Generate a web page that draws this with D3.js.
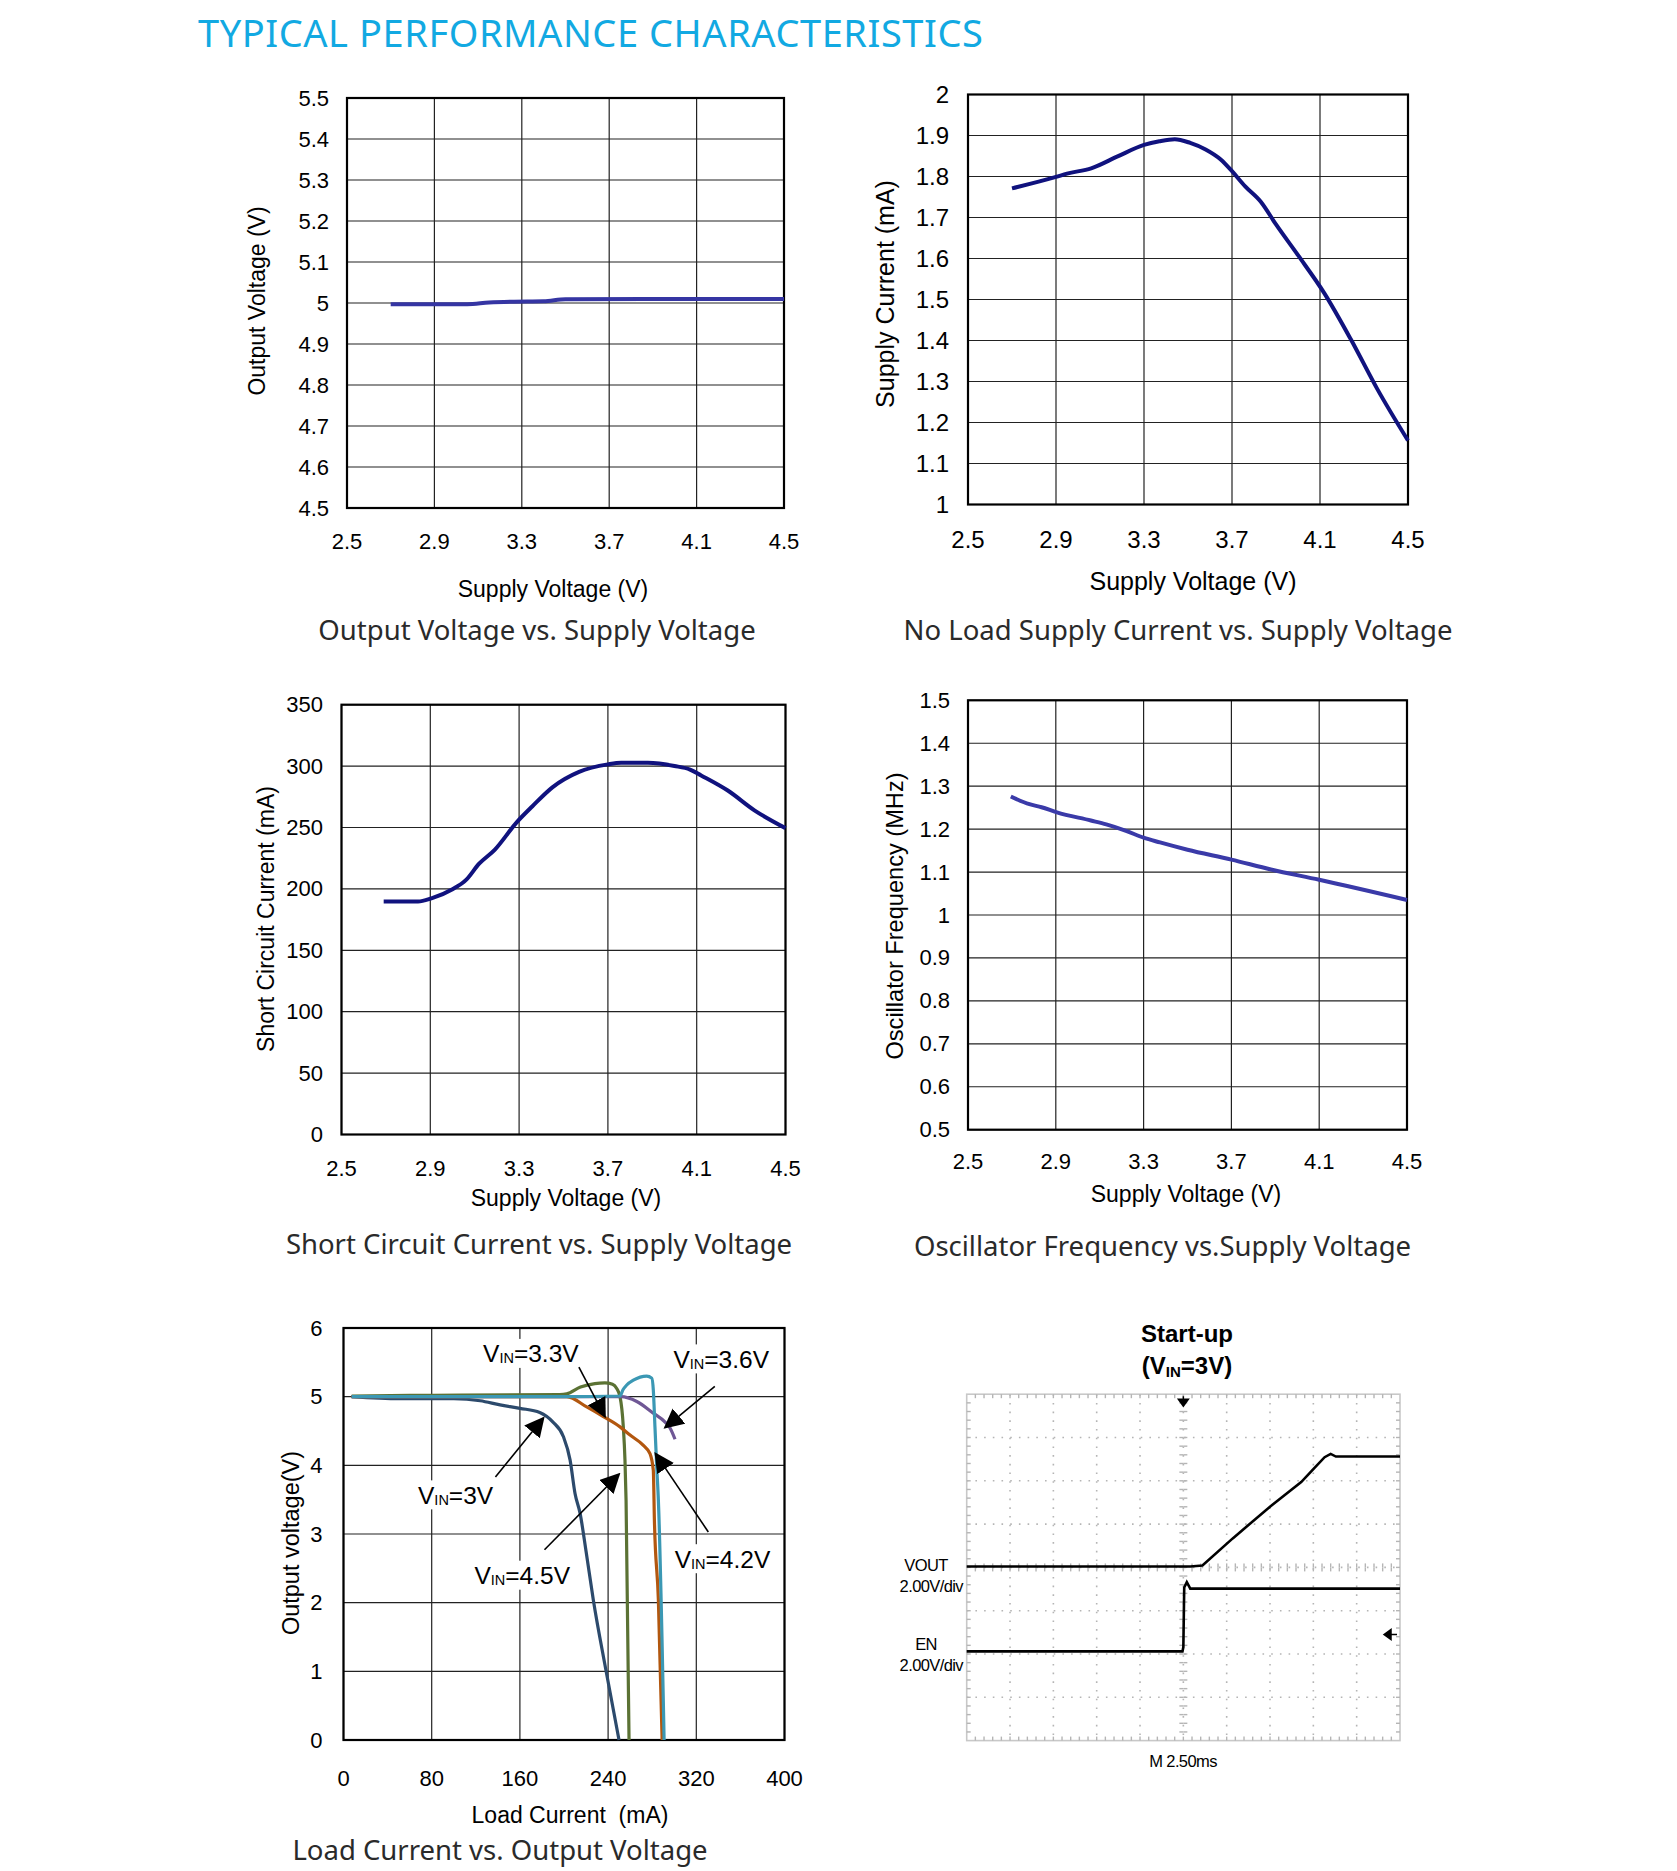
<!DOCTYPE html>
<html>
<head>
<meta charset="utf-8">
<script src="https://cdn.jsdelivr.net/npm/d3@7"></script>
<style>
  body { margin: 0; background: #fff; }
  svg { display: block; }
</style>
</head>
<body>
<div id="chart"></div>
<script>
// ---- data ----
const supplyTicks = [2.5, 2.9, 3.3, 3.7, 4.1, 4.5];

// Output Voltage vs Supply Voltage  [Vin, Vout]
const outVoltage = [[2.7, 4.997], [3.05, 4.997], [3.15, 5.001], [3.25, 5.003], [3.4, 5.004], [3.5, 5.009], [4.5, 5.01]];
const outVoltageTicks = [4.5, 4.6, 4.7, 4.8, 4.9, 5, 5.1, 5.2, 5.3, 5.4, 5.5];

// No load supply current  [Vin, mA]
const noLoadCurrent = [[2.7, 1.771], [2.9, 1.799], [2.95, 1.807], [3.06, 1.82], [3.18, 1.849], [3.3, 1.877], [3.37, 1.886],
  [3.44, 1.891], [3.51, 1.882], [3.58, 1.866], [3.65, 1.841], [3.7, 1.813], [3.76, 1.776], [3.83, 1.739], [3.9, 1.683],
  [4.0, 1.608], [4.12, 1.515], [4.24, 1.403], [4.36, 1.282], [4.5, 1.156]];
const noLoadTicks = [1, 1.1, 1.2, 1.3, 1.4, 1.5, 1.6, 1.7, 1.8, 1.9, 2];

// Short circuit current  [Vin, mA]
const shortCurrent = [[2.69, 189.7], [2.845, 189.7], [2.905, 192.3], [3.0, 199.7], [3.06, 207.1], [3.12, 220.5], [3.19, 231.8],
  [3.29, 254.4], [3.36, 267.3], [3.45, 282.7], [3.57, 295.3], [3.7, 301.4], [3.76, 302.7], [3.88, 302.7], [4.0, 300.1],
  [4.07, 297.2], [4.12, 292.4], [4.24, 280.1], [4.36, 264], [4.5, 249.5]];
const shortTicks = [0, 50, 100, 150, 200, 250, 300, 350];

// Oscillator frequency  [Vin, MHz]
const oscFreq = [[2.695, 1.276], [2.78, 1.258], [2.835, 1.251], [2.905, 1.239], [3.06, 1.22], [3.13, 1.211], [3.22, 1.196],
  [3.3, 1.18], [3.375, 1.169], [3.5, 1.152], [3.7, 1.129], [3.88, 1.106], [4.1, 1.082], [4.5, 1.035]];
const oscTicks = [0.5, 0.6, 0.7, 0.8, 0.9, 1, 1.1, 1.2, 1.3, 1.4, 1.5];

// Load current vs output voltage  [mA, V]
const loadTicksX = [0, 80, 160, 240, 320, 400];
const loadTicksY = [0, 1, 2, 3, 4, 5, 6];
const load3V = [[7.4, 5.0], [51, 4.97], [100, 4.97], [124, 4.94], [142, 4.88], [160, 4.83], [178, 4.77], [190, 4.63],
  [199.4, 4.42], [205.5, 4.08], [210, 3.59], [214.6, 3.3], [220, 2.75], [226.6, 2.04], [238, 1.02], [249.9, 0]];
const load33V = [[7.4, 5.01], [81.5, 5.02], [196, 5.03], [202.5, 5.04], [215, 5.14], [228, 5.19], [237, 5.2], [244, 5.18],
  [247.8, 5.12], [250.8, 5.0], [253.8, 4.56], [255.3, 4.08], [256.3, 3.49], [259, 0]];
const load36V = [[7.4, 5.0], [200, 5.0], [251.7, 5.0], [266, 4.93], [281, 4.76], [291.7, 4.63], [296.3, 4.54], [300.7, 4.38]];
const load42V = [[7.4, 5.0], [202.5, 5.0], [220.6, 4.85], [235.7, 4.71], [250.8, 4.56], [259.9, 4.44], [272, 4.29],
  [278, 4.17], [281, 3.93], [282, 3.2], [285.6, 2.04], [289, 0]];
const load45V = [[7.4, 5.0], [200, 5.0], [250.8, 5.01], [253.5, 5.1], [256.9, 5.17], [262.9, 5.24], [275, 5.3], [279.6, 5.27],
  [281, 5.1], [282.5, 4.56], [284.1, 3.98], [285.6, 3.49], [290.8, 0]];
const loadSeries = [
  {name: "3V", data: load3V, color: "#2c4a6c"},
  {name: "3.3V", data: load33V, color: "#5b7234"},
  {name: "3.6V", data: load36V, color: "#6f5795"},
  {name: "4.2V", data: load42V, color: "#b2570f"},
  {name: "4.5V", data: load45V, color: "#3b98b4"}
];
// annotation: label anchor [mA, V] and arrow [from mA, from V, to mA, to V]
const loadLabels = [
  {vin: "3.3V", at: [126.6, 5.63], arrow: [213.5, 5.43, 237.1, 4.71]},
  {vin: "3.6V", at: [299.3, 5.55], arrow: [336.8, 5.15, 291.7, 4.55]},
  {vin: "3V", at: [67.6, 3.57], arrow: [137.8, 3.83, 181.3, 4.69]},
  {vin: "4.5V", at: [118.8, 2.4], arrow: [182.3, 2.77, 249.9, 3.87]},
  {vin: "4.2V", at: [300.4, 2.64], arrow: [330.9, 3.03, 283, 4.17]}
];

// Start-up scope capture: [time ms, volts], 2.5ms/div, 2V/div
const vout = [[0, 0], [12.9, 0], [13.6, 0.05], [15.35, 1.3], [17.55, 2.8], [19.3, 3.9], [20, 4.5], [20.65, 5.05],
  [21, 5.2], [21.3, 5.08], [25, 5.08]];
const enable = [[0, 0], [12.45, 0], [12.5, 0.2], [12.55, 2.95], [12.7, 3.2], [12.9, 2.9], [25, 2.9]];

// ---- drawing ----
const svg = d3.select("#chart").append("svg")
  .attr("width", 1677).attr("height", 1871);

svg.append("text")
  .attr("x", 198).attr("y", 47)
  .style("font-family", "'Noto Sans', sans-serif")
  .style("font-size", "38px").style("letter-spacing", "0.55px")
  .attr("fill", "#12a9e2")
  .text("TYPICAL PERFORMANCE CHARACTERISTICS");

const arial = "'Liberation Sans', Arial, sans-serif";

function xyChart(c) {
  const g = svg.append("g");
  const x = d3.scaleLinear().domain(c.xDomain).range([c.left, c.right]);
  const y = d3.scaleLinear().domain(c.yDomain).range([c.bottom, c.top]);

  // grid
  g.selectAll(".gx").data(c.xTicks).join("line")
    .attr("x1", d => x(d)).attr("x2", d => x(d))
    .attr("y1", c.top).attr("y2", c.bottom)
    .attr("stroke", "#222").attr("stroke-width", 1.2);
  g.selectAll(".gy").data(c.yTicks).join("line")
    .attr("x1", c.left).attr("x2", c.right)
    .attr("y1", d => y(d)).attr("y2", d => y(d))
    .attr("stroke", "#222").attr("stroke-width", 1.2);

  g.append("rect")
    .attr("x", c.left).attr("y", c.top)
    .attr("width", c.right - c.left).attr("height", c.bottom - c.top)
    .attr("fill", "none").attr("stroke", "#000").attr("stroke-width", 2.2);

  // tick labels
  g.selectAll(".tx").data(c.xTicks).join("text")
    .attr("x", d => x(d)).attr("y", c.bottom + c.xLabelDy)
    .attr("text-anchor", "middle").attr("dominant-baseline", "central")
    .style("font-family", arial).style("font-size", c.tickSize + "px")
    .text(d => d);
  g.selectAll(".ty").data(c.yTicks).join("text")
    .attr("x", c.left - c.yLabelDx).attr("y", d => y(d))
    .attr("text-anchor", "end").attr("dominant-baseline", "central")
    .style("font-family", arial).style("font-size", c.tickSize + "px")
    .text(d => d);

  // axis titles
  g.append("text")
    .attr("x", c.xTitle[0]).attr("y", c.xTitle[1])
    .attr("text-anchor", "middle").attr("dominant-baseline", "central")
    .style("font-family", arial).style("font-size", c.titleSize + "px")
    .style("white-space", "pre")
    .text(c.xLabel);
  g.append("text")
    .attr("transform", "translate(" + c.yTitle[0] + "," + c.yTitle[1] + ") rotate(-90)")
    .attr("text-anchor", "middle").attr("dominant-baseline", "central")
    .style("font-family", arial).style("font-size", (c.yTitleSize || c.titleSize) + "px")
    .text(c.yLabel);

  // caption under the plot
  g.append("text")
    .attr("x", c.caption[0]).attr("y", c.caption[1])
    .attr("text-anchor", "middle").attr("dominant-baseline", "central")
    .style("font-family", "'Noto Sans', sans-serif").style("font-size", "27.5px")
    .attr("fill", "#2a2a2a")
    .text(c.captionText);

  const line = d3.line()
    .x(d => x(d[0])).y(d => y(d[1]))
    .curve(d3.curveMonotoneX);
  c.series.forEach(s => {
    g.append("path")
      .datum(s.data)
      .attr("d", line)
      .attr("fill", "none")
      .attr("stroke", s.color)
      .attr("stroke-width", s.width || 3.5)
      .attr("stroke-linejoin", "round");
  });
  return {g, x, y};
}

xyChart({
  left: 347, right: 784, top: 98, bottom: 508,
  xDomain: [2.5, 4.5], yDomain: [4.5, 5.5], xTicks: supplyTicks, yTicks: outVoltageTicks,
  tickSize: 22, titleSize: 23, xLabelDy: 33, yLabelDx: 18,
  xLabel: "Supply Voltage (V)", yLabel: "Output Voltage (V)",
  xTitle: [553, 589], yTitle: [257, 301],
  caption: [537, 629], captionText: "Output Voltage vs. Supply Voltage",
  series: [{data: outVoltage, color: "#3535a3", width: 4}]
});

xyChart({
  left: 968, right: 1408, top: 94.5, bottom: 504.5,
  xDomain: [2.5, 4.5], yDomain: [1, 2], xTicks: supplyTicks, yTicks: noLoadTicks,
  tickSize: 24, titleSize: 25, xLabelDy: 35, yLabelDx: 19,
  xLabel: "Supply Voltage (V)", yLabel: "Supply Current (mA)",
  xTitle: [1193, 581], yTitle: [885, 294],
  caption: [1178, 629], captionText: "No Load Supply Current vs. Supply Voltage",
  series: [{data: noLoadCurrent, color: "#10127e", width: 4}]
});

xyChart({
  left: 341.5, right: 785.5, top: 704.7, bottom: 1134.5,
  xDomain: [2.5, 4.5], yDomain: [0, 350], xTicks: supplyTicks, yTicks: shortTicks,
  tickSize: 22, titleSize: 23, xLabelDy: 33.5, yLabelDx: 18.5,
  xLabel: "Supply Voltage (V)", yLabel: "Short Circuit Current (mA)",
  xTitle: [566, 1198], yTitle: [266, 919],
  caption: [539, 1243], captionText: "Short Circuit Current vs. Supply Voltage",
  series: [{data: shortCurrent, color: "#10127e", width: 4}]
});

xyChart({
  left: 968, right: 1407, top: 700.3, bottom: 1129.7,
  xDomain: [2.5, 4.5], yDomain: [0.5, 1.5], xTicks: supplyTicks, yTicks: oscTicks,
  tickSize: 22, titleSize: 23, yTitleSize: 23.6, xLabelDy: 31.7, yLabelDx: 18,
  xLabel: "Supply Voltage (V)", yLabel: "Oscillator Frequency (MHz)",
  xTitle: [1186, 1194], yTitle: [895, 916],
  caption: [1162.5, 1245], captionText: "Oscillator Frequency vs.Supply Voltage",
  series: [{data: oscFreq, color: "#3a3aa8", width: 4}]
});

const loadChart = xyChart({
  left: 343.5, right: 784.5, top: 1328, bottom: 1740,
  xDomain: [0, 400], yDomain: [0, 6], xTicks: loadTicksX, yTicks: loadTicksY,
  tickSize: 22, titleSize: 23, yTitleSize: 23.5, xLabelDy: 38.3, yLabelDx: 21,
  xLabel: "Load Current  (mA)", yLabel: "Output voltage(V)",
  xTitle: [570, 1814.5], yTitle: [291, 1543],
  caption: [500, 1849], captionText: "Load Current vs. Output Voltage",
  series: loadSeries.map(s => ({data: s.data, color: s.color, width: 3.2}))
});

// arrows and V_IN labels on the load chart
svg.append("defs").append("marker")
  .attr("id", "arrowHead")
  .attr("viewBox", "0 0 10 10").attr("refX", 9).attr("refY", 5)
  .attr("markerWidth", 20).attr("markerHeight", 20)
  .attr("markerUnits", "userSpaceOnUse")
  .attr("orient", "auto")
  .append("path").attr("d", "M0,0 L10,5 L0,10 z").attr("fill", "#000");

const lx = loadChart.x, ly = loadChart.y;
loadLabels.forEach(l => {
  const box = svg.append("rect").attr("fill", "#fff");
  const t = svg.append("text")
    .attr("x", lx(l.at[0])).attr("y", ly(l.at[1]))
    .attr("dominant-baseline", "central")
    .style("font-family", arial).style("font-size", "24.5px");
  t.append("tspan").text("V");
  t.append("tspan").attr("dy", 5).style("font-size", "14.5px").text("IN");
  t.append("tspan").attr("dy", -5).text("=" + l.vin);
  const bb = t.node().getBBox();
  box.attr("x", bb.x - 3).attr("y", bb.y - 1).attr("width", bb.width + 6).attr("height", bb.height + 2);
  svg.append("line")
    .attr("x1", lx(l.arrow[0])).attr("y1", ly(l.arrow[1]))
    .attr("x2", lx(l.arrow[2])).attr("y2", ly(l.arrow[3]))
    .attr("stroke", "#000").attr("stroke-width", 1.6)
    .attr("marker-end", "url(#arrowHead)");
});

// ---- scope capture ----
const sx = d3.scaleLinear().domain([0, 25]).range([966.7, 1400]);
const sy = d3.scaleLinear().domain([0, 8]).range([1394.2, 1740.6]); // in divisions from top
const scope = svg.append("g");

scope.append("text")
  .attr("x", 1187).attr("y", 1333).attr("text-anchor", "middle").attr("dominant-baseline", "central")
  .style("font-family", arial).style("font-size", "24px").style("font-weight", "bold")
  .text("Start-up");
const st2 = scope.append("text")
  .attr("x", 1187).attr("y", 1365).attr("text-anchor", "middle").attr("dominant-baseline", "central")
  .style("font-family", arial).style("font-size", "24px").style("font-weight", "bold");
st2.append("tspan").text("(V");
st2.append("tspan").attr("dy", 6).style("font-size", "15px").text("IN");
st2.append("tspan").attr("dy", -6).text("=3V)");

const divX = d3.range(1, 10).map(i => i * 2.5);
const divY = d3.range(1, 8);
scope.selectAll(".sgx").data(divX).join("line")
  .attr("x1", d => sx(d)).attr("x2", d => sx(d))
  .attr("y1", sy(0)).attr("y2", sy(8))
  .attr("stroke", "#b5b5b5").attr("stroke-width", 1.6).attr("stroke-dasharray", "1.6,7.1");
scope.selectAll(".sgy").data(divY).join("line")
  .attr("x1", sx(0)).attr("x2", sx(25))
  .attr("y1", d => sy(d)).attr("y2", d => sy(d))
  .attr("stroke", "#b5b5b5").attr("stroke-width", 1.6).attr("stroke-dasharray", "1.6,7.1");
scope.append("rect")
  .attr("x", sx(0)).attr("y", sy(0))
  .attr("width", sx(25) - sx(0)).attr("height", sy(8) - sy(0))
  .attr("fill", "none").attr("stroke", "#c8c8c8").attr("stroke-width", 1.6);

// minor ticks, 5 per division, on the border and the centre lines
const minorX = d3.range(1, 50).map(i => i * 0.5);
const minorY = d3.range(1, 40).map(i => i * 0.2);
[[0, 4], [8, -4], [4, 4], [4, -4]].forEach(([row, len]) => {
  scope.selectAll(null).data(minorX).join("line")
    .attr("x1", d => sx(d)).attr("x2", d => sx(d))
    .attr("y1", sy(row)).attr("y2", sy(row) + len)
    .attr("stroke", "#b5b5b5").attr("stroke-width", 1.4);
});
[[0, 4], [25, -4], [12.5, 4], [12.5, -4]].forEach(([col, len]) => {
  scope.selectAll(null).data(minorY).join("line")
    .attr("x1", sx(col)).attr("x2", sx(col) + len)
    .attr("y1", d => sy(d)).attr("y2", d => sy(d))
    .attr("stroke", "#b5b5b5").attr("stroke-width", 1.4);
});

const voutZero = 3.98, enZero = 5.94;   // ground markers, divisions from top
const traceLine = zero => d3.line().x(d => sx(d[0])).y(d => sy(zero - d[1] / 2));
scope.append("path").datum(vout).attr("d", traceLine(voutZero))
  .attr("fill", "none").attr("stroke", "#000").attr("stroke-width", 2.6);
scope.append("path").datum(enable).attr("d", traceLine(enZero))
  .attr("fill", "none").attr("stroke", "#000").attr("stroke-width", 2.6);

// trigger markers
scope.append("path")
  .attr("d", "M" + (sx(12.5) - 5) + "," + (sy(0) + 5) + " h10 l-5,7 z M" + sx(12.5) + "," + (sy(0) + 2) + " v6")
  .attr("fill", "#000").attr("stroke", "#000").attr("stroke-width", 1.5);
scope.append("path")
  .attr("d", "M" + (sx(25) - 16) + "," + sy(5.55) + " l7,-5 v10 z M" + (sx(25) - 10) + "," + sy(5.55) + " h7")
  .attr("fill", "#000").attr("stroke", "#000").attr("stroke-width", 1.5);

const scopeText = (txt, xx, yy, anchor) => scope.append("text")
  .attr("x", xx).attr("y", yy).attr("text-anchor", anchor).attr("dominant-baseline", "central")
  .style("font-family", arial).style("font-size", "16.5px").style("letter-spacing", "-0.6px")
  .text(txt);
scopeText("VOUT", 926, 1565, "middle");
scopeText("2.00V/div", 963, 1586, "end");
scopeText("EN", 926, 1644, "middle");
scopeText("2.00V/div", 963, 1664.5, "end");
scopeText("M 2.50ms", 1183, 1760.5, "middle");
</script>
</body>
</html>
